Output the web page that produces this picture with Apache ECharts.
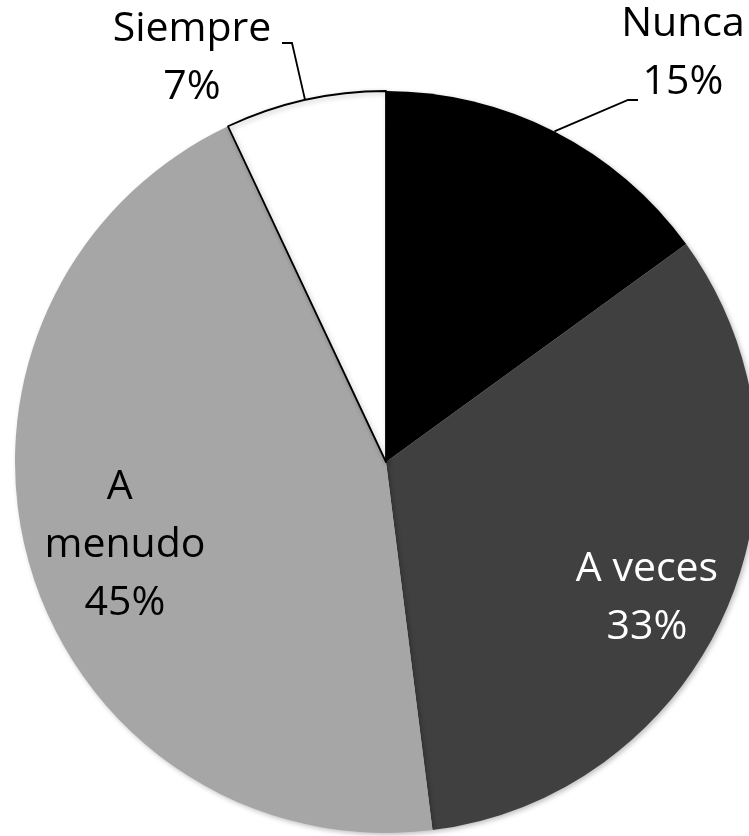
<!DOCTYPE html>
<html>
<head>
<meta charset="utf-8">
<script src="https://cdn.jsdelivr.net/npm/echarts@6/dist/echarts.min.js"></script>
<style>
html,body{margin:0;padding:0;background:#fff;}
#chart{width:749px;height:836px;}
</style>
</head>
<body>
<div id="chart"></div>
<script>
// Data
const categories = ['Nunca', 'A veces', 'A menudo', 'Siempre'];
const values = [15, 33, 45, 7];

// Styles / layout
const sliceColors = ['#000000', '#404040', '#a6a6a6', '#ffffff'];
const sliceBorders = [0, 0, 0, 1.8];
const labelColors = ['#000000', '#ffffff', '#000000', '#000000'];
const labelPositions = ['outside', 'inside', 'inside', 'outside'];
const labelCenters = [[683, 53], [647, 598], [125, 545], [192, 58]];
// leader line elbow/end offsets relative to label centre (only for outside labels)
const leaderOffsets = [[[-55, 47], [-45, 47]], null, null, [[100, -15], [90, -15]]];
const CX = 386, CY = 462, R = 371;

const total = values.reduce((a, b) => a + b, 0);
const midAngles = [];
let acc = 0;
values.forEach(v => { midAngles.push((acc + v / 2) / total * 2 * Math.PI); acc += v; });

const chart = echarts.init(document.getElementById('chart'));
chart.setOption({
  backgroundColor: '#ffffff',
  animation: false,
  series: [{
    type: 'pie',
    center: [CX, CY],
    radius: R,
    startAngle: 90,
    clockwise: true,
    avoidLabelOverlap: false,
    itemStyle: {
      borderColor: '#000000',
      shadowBlur: 5,
      shadowOffsetX: 2,
      shadowOffsetY: 2,
      shadowColor: 'rgba(0,0,0,0.25)'
    },
    label: {
      fontFamily: 'Open Sans',
      fontSize: 41,
      lineHeight: 58,
      formatter: '{b}\n{d}%',
      align: 'center'
    },
    labelLine: {
      lineStyle: { color: '#000000', width: 1.8 }
    },
    data: categories.map((name, i) => ({
      name: name,
      value: values[i],
      itemStyle: { color: sliceColors[i], borderWidth: sliceBorders[i] },
      label: {
        position: labelPositions[i],
        color: labelColors[i],
        width: i === 2 ? 165 : undefined,
        overflow: i === 2 ? 'break' : 'none'
      },
      labelLine: { show: labelPositions[i] === 'outside' }
    })),
    labelLayout: function (params) {
      const i = params.dataIndex;
      const c = labelCenters[i];
      const res = { x: c[0], y: c[1], align: 'center', verticalAlign: 'middle' };
      if (leaderOffsets[i]) {
        const a = midAngles[i];
        const anchor = [CX + R * Math.sin(a), CY - R * Math.cos(a)];
        res.labelLinePoints = [
          anchor,
          [c[0] + leaderOffsets[i][0][0], c[1] + leaderOffsets[i][0][1]],
          [c[0] + leaderOffsets[i][1][0], c[1] + leaderOffsets[i][1][1]]
        ];
      }
      return res;
    }
  }]
});
</script>
</body>
</html>
